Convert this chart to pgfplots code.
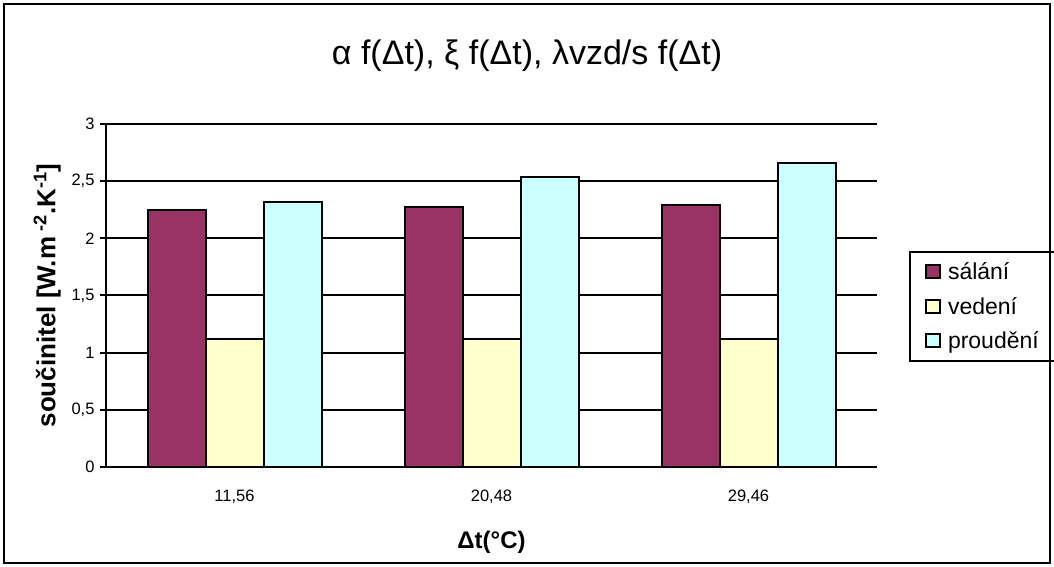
\documentclass[border=0pt]{standalone}
\usepackage{pgfplots}
\pgfplotsset{compat=1.18}
\usepackage{fontspec}
\setmainfont{Liberation Sans}
\definecolor{cSal}{HTML}{993366}
\definecolor{cVed}{HTML}{FFFFCC}
\definecolor{cPro}{HTML}{CCFFFF}
\begin{document}
\begin{tikzpicture}
\useasboundingbox (0,0) rectangle (1054bp,567bp);
\begin{axis}[
  at={(106bp,100bp)}, anchor=south west,
  scale only axis, width=771bp, height=343bp,
  ybar=0pt, bar width=58bp,
  xmin=-0.5, xmax=2.5, ymin=0, ymax=3,
  axis x line*=bottom, axis y line*=left,
  axis line style={line width=2bp},
  xtick={0,1,2}, xticklabels={{11,56},{20,48},{29,46}},
  major x tick style={draw=none},
  extra x ticks={-0.5,0.5,1.5,2.5}, extra x tick labels={},
  extra x tick style={major tick length=7bp, tick style={draw=black, line width=2bp}},
  ytick={0,0.5,1,1.5,2,2.5,3},
  tick align=outside, major tick length=6bp,
  tick style={line width=2bp, black},
  ymajorgrids, grid style={line width=2bp, black},
  /pgf/number format/assume math mode=true,
  /pgf/number format/use comma,
  yticklabel style={font=\fontsize{16.5bp}{19bp}\selectfont, xshift=-2bp},
  xticklabel style={font=\fontsize{16.5bp}{19bp}\selectfont, yshift=-13bp},
  xlabel={\textbf{Δt(°C)}},
  xlabel style={font=\fontsize{24bp}{28bp}\selectfont, yshift=-8bp},
  ylabel={\textbf{součinitel [W.m\textsuperscript{ -2}.K\textsuperscript{-1}]}},
  ylabel style={font=\fontsize{26bp}{30bp}\selectfont, yshift=4bp},
  legend style={at={(1.0415,0.6297)}, anchor=north west, draw=black, line width=2bp,
    font=\fontsize{23bp}{26bp}\selectfont, row sep=12bp, inner xsep=15bp, inner ysep=9bp},
  legend cell align=left,
  legend image code/.code={\path[draw=none,fill=none] (0bp,0bp) rectangle (20bp,0.1bp);\draw[#1, line width=2bp] (0bp,-6bp) rectangle (14bp,7bp);},
  every axis plot/.append style={draw=black, line width=2bp},
]
\addplot[fill=cSal] coordinates {(0,2.25) (1,2.27) (2,2.29)};
\addplot[fill=cVed] coordinates {(0,1.12) (1,1.12) (2,1.12)};
\addplot[fill=cPro] coordinates {(0,2.32) (1,2.54) (2,2.66)};
\legend{sálání,vedení,proudění}
\end{axis}
\draw[line width=2bp] (4bp,4bp) rectangle (1050bp,563bp);
\node[font=\fontsize{34bp}{40bp}\selectfont] at (527bp,511bp) {α f(Δt), ξ f(Δt), λvzd/s f(Δt)};
\end{tikzpicture}
\end{document}
